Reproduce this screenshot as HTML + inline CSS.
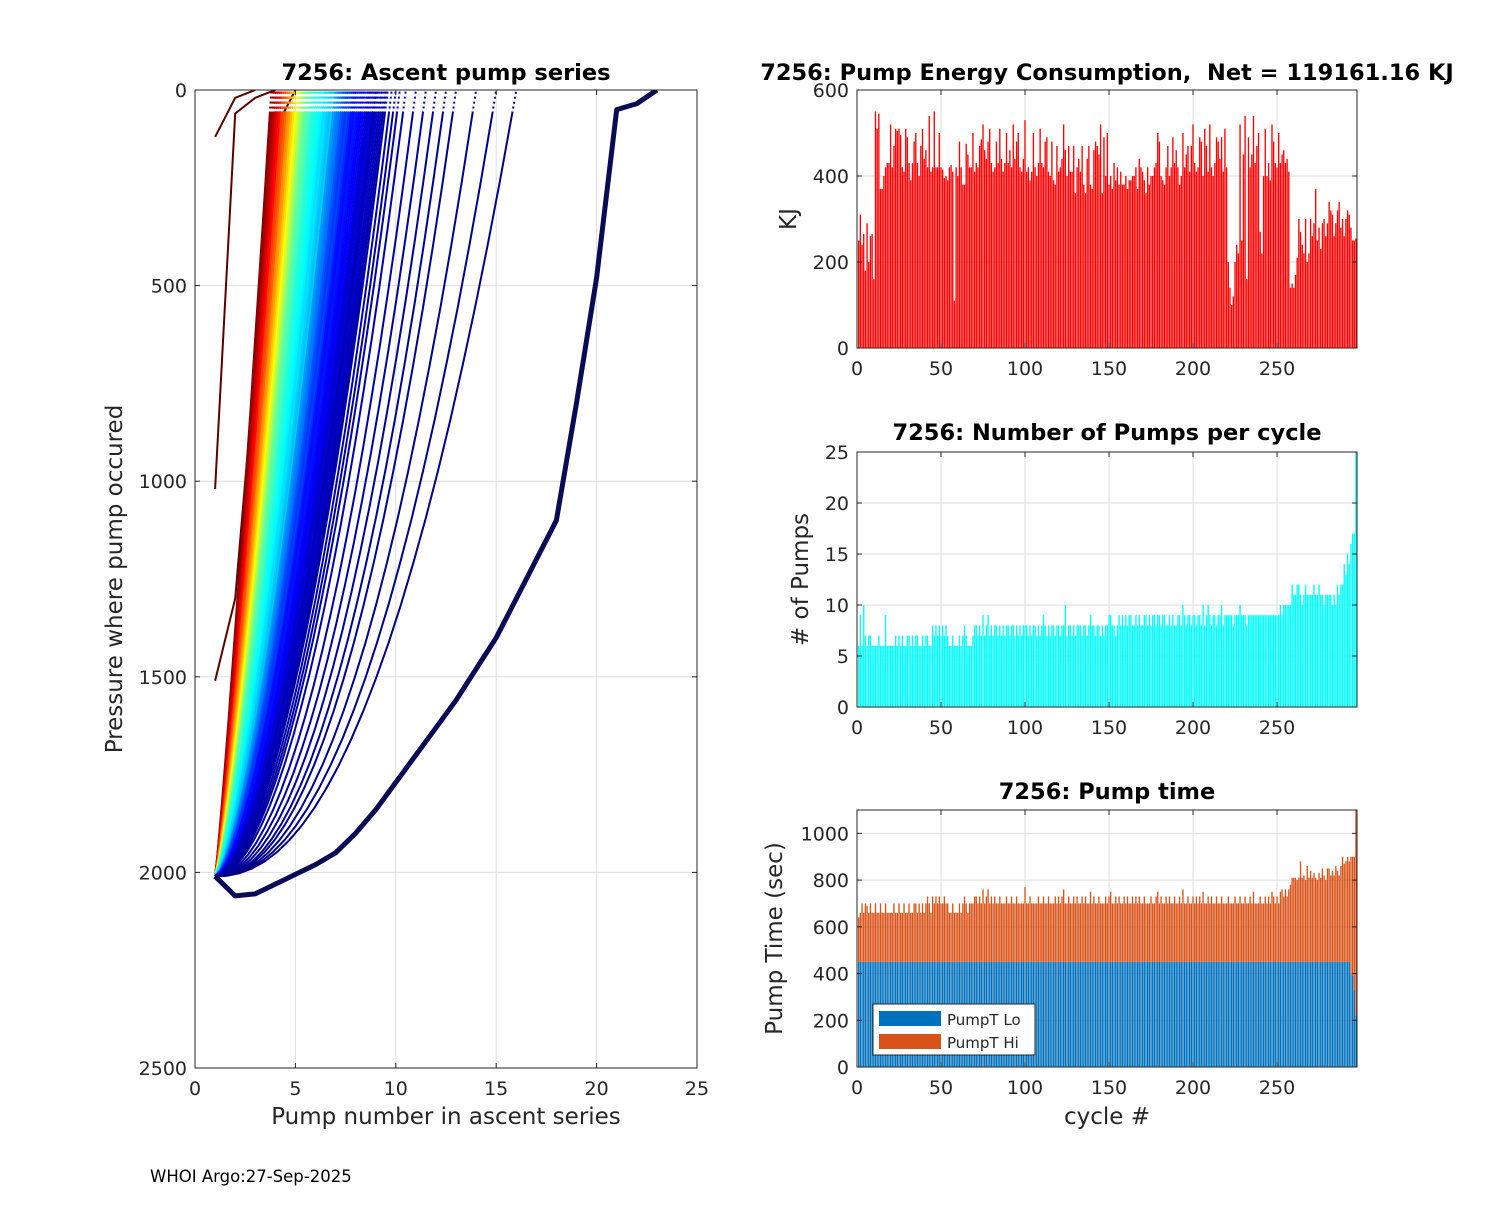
<!DOCTYPE html>
<html><head><meta charset="utf-8">
<style>
html,body{margin:0;padding:0;background:#fff;}
svg text{font-family:"DejaVu Sans","Liberation Sans",sans-serif;fill:#262626;}
</style></head>
<body>
<svg id="fig" width="1500" height="1200" xmlns="http://www.w3.org/2000/svg">
<rect width="1500" height="1200" fill="#fff"/>
<g id="left"></g>
<g id="top"></g>
<g id="mid"></g>
<g id="bot"></g>
<text x="150" y="1182" font-size="16.5" style="fill:#000">WHOI Argo:27-Sep-2025</text>
</svg>
<script>
const energy=[250,310,240,265,180,290,200,260,265,160,550,510,545,370,370,400,420,430,430,520,
420,470,510,505,510,495,420,410,510,490,430,390,430,480,500,430,400,470,510,440,
460,420,540,410,420,550,420,420,500,420,415,395,400,390,420,425,410,110,420,400,
480,420,380,380,475,450,420,420,500,410,430,420,470,485,520,460,440,480,510,430,
410,420,480,430,510,440,410,430,500,430,460,420,520,440,480,500,420,410,440,530,
410,420,390,410,500,420,400,430,510,430,420,480,490,410,400,480,390,380,470,410,
420,440,520,460,400,470,410,410,470,360,420,440,410,470,380,360,440,470,380,370,
460,480,470,450,520,360,490,400,500,380,400,370,430,390,420,380,410,380,380,400,
370,390,390,400,400,420,370,440,420,410,390,360,420,380,400,400,420,430,500,480,
400,390,380,420,470,400,420,490,430,460,420,380,400,500,420,450,470,410,470,520,
430,410,420,490,480,400,510,470,410,520,420,400,430,490,480,440,490,410,510,420,
200,140,100,120,200,240,220,520,250,450,540,160,490,420,450,540,430,470,500,270,
220,400,510,400,430,390,520,480,430,420,500,430,450,460,430,440,410,140,150,140,
170,210,300,270,240,220,300,200,220,300,260,290,370,250,280,230,290,300,260,290,
340,320,310,260,290,320,340,280,300,260,300,320,310,280,250,250,255];
const pumps=[6,9,6,10,7,6,7,7,6,6,6,6,7,6,6,6,9,6,6,6,
6,6,7,6,7,6,7,6,6,7,7,6,7,6,7,7,6,6,7,6,
7,7,6,6,8,7,8,7,8,7,8,7,8,7,6,6,7,6,6,6,
7,6,7,8,7,6,6,6,7,8,8,7,8,7,9,7,8,9,7,8,
7,8,8,7,8,7,8,7,8,8,7,8,8,7,8,7,8,7,8,8,
8,7,8,7,8,8,7,8,7,8,9,8,7,8,7,8,8,7,8,8,
7,8,8,10,7,8,8,7,8,7,8,8,8,7,8,8,7,8,9,8,
8,7,8,8,7,8,7,8,8,9,9,8,8,7,8,9,8,9,8,9,
8,9,9,8,8,9,8,9,8,8,9,9,8,9,8,9,9,8,9,9,
8,9,9,8,8,9,8,9,8,8,9,9,8,10,9,8,9,9,8,9,
9,8,9,9,8,10,8,9,10,9,8,9,9,8,9,9,10,8,9,9,
9,9,9,8,9,9,9,10,9,9,9,8,9,9,9,9,9,9,9,9,
9,9,9,9,9,9,9,9,9,9,9,10,9,10,10,10,10,10,12,11,
11,12,12,11,10,11,12,11,11,11,11,12,11,11,12,11,11,10,11,11,
11,11,10,11,10,12,11,12,12,14,13,15,14,16,17,17,25];
const ascentLen=[3.9,4.0,3.8,4.1,4.0,3.9,4.0,4.1,3.9,4.0,4.0,4.1,4.0,4.2,4.0,4.1,4.2,4.0,4.1,4.2,
4.1,4.2,4.1,4.3,4.2,4.1,4.3,4.2,4.2,4.3,4.3,4.2,4.4,4.3,4.2,4.4,4.3,4.4,4.3,4.4,
4.4,4.3,4.5,4.4,4.4,4.5,4.4,4.5,4.6,4.4,4.5,4.5,4.6,4.5,4.4,4.6,4.5,4.6,4.7,4.5,
4.6,4.7,4.6,4.6,4.7,4.8,4.6,4.7,4.8,4.7,4.7,4.8,4.9,4.7,4.8,4.8,4.9,4.8,4.7,4.9,
4.9,4.8,5.0,4.9,4.8,5.0,4.9,5.0,5.1,4.9,5.0,5.0,5.1,5.0,4.9,5.1,5.0,5.1,5.2,5.0,
5.1,5.1,5.2,5.0,5.1,5.2,5.1,5.2,5.3,5.1,5.2,5.2,5.3,5.2,5.1,5.3,5.2,5.3,5.4,5.2,
5.3,5.3,5.4,5.2,5.3,5.4,5.3,5.4,5.5,5.3,5.4,5.4,5.5,5.4,5.3,5.5,5.4,5.5,5.6,5.4,
5.5,5.5,5.6,5.4,5.5,5.6,5.5,5.6,5.7,5.5,5.6,5.6,5.7,5.6,5.5,5.7,5.6,5.7,5.8,5.6,
5.7,5.8,5.9,5.7,5.8,6.0,5.8,5.9,6.1,5.9,6.0,6.0,6.2,6.0,5.9,6.1,6.0,6.2,6.3,6.1,
6.2,6.3,6.4,6.2,6.5,6.6,6.3,6.5,6.7,6.4,6.6,6.5,6.8,6.6,6.5,6.9,6.7,6.8,7.0,6.7,
6.9,7.0,7.1,6.8,7.0,7.2,7.0,7.1,7.3,7.0,7.2,7.1,7.4,7.2,7.0,7.3,7.2,7.5,7.3,7.1,
7.3,7.4,7.5,7.2,7.4,7.6,7.3,7.5,7.7,7.4,7.6,7.5,7.8,7.6,7.4,7.7,7.6,7.9,7.7,7.5,
7.7,7.8,8.0,7.6,7.9,8.1,7.8,8.0,8.2,7.9,8.1,8.0,8.3,8.1,7.9,8.2,8.0,8.4,8.6,8.3,
8.5,8.7,8.9,8.4,8.8,9.0,8.6,8.9,9.1,8.7,9.0,8.8,9.2,9.0,8.7,9.3,9.0,9.4,9.1,9.5,
9.3,9.6,9.0,9.8,10.2,9.5,10.5,11.0,10.0,11.5,12.0,12.5,13.0,14.0,15.0,16.0,23];
const totalTime=[640,660,700,660,700,690,660,700,660,660,700,660,660,700,660,660,700,660,660,660,
660,700,660,660,700,660,660,700,660,660,700,660,660,700,700,660,700,660,700,660,
700,730,700,660,730,700,730,700,730,700,700,730,700,700,660,660,700,660,660,660,
700,660,700,730,700,660,700,700,700,730,730,700,730,700,760,700,730,760,700,730,
700,730,700,700,730,700,700,700,730,700,700,730,700,700,730,700,700,700,700,770,
700,700,730,700,700,700,700,730,700,700,730,700,700,730,700,700,700,730,700,730,
700,730,760,700,700,730,700,700,730,700,730,700,700,730,700,730,700,700,750,700,
730,700,700,730,700,700,700,730,700,730,750,700,700,730,700,730,700,700,730,700,
730,700,700,730,700,730,700,730,700,700,730,700,700,700,730,700,700,730,750,700,
730,700,700,730,700,730,700,700,730,700,700,730,700,760,700,700,730,700,700,730,
700,730,700,730,700,750,700,700,730,700,730,700,700,730,700,700,730,700,700,700,
730,700,700,700,730,700,700,730,700,700,730,700,700,730,700,750,700,700,700,730,
700,700,730,700,730,700,750,730,700,730,700,750,760,730,760,730,760,780,810,810,
810,800,810,880,810,820,800,860,810,840,810,830,810,800,830,810,850,820,800,850,
850,820,840,820,860,840,820,860,900,870,880,900,880,900,900,900,1100];
const loTime=[450,450,450,450,450,450,450,450,450,450,450,450,450,450,450,450,450,450,450,450,
450,450,450,450,450,450,450,450,450,450,450,450,450,450,450,450,450,450,450,450,
450,450,450,450,450,450,450,450,450,450,450,450,450,450,450,450,450,450,450,450,
450,450,450,450,450,450,450,450,450,450,450,450,450,450,450,450,450,450,450,450,
450,450,450,450,450,450,450,450,450,450,450,450,450,450,450,450,450,450,450,450,
450,450,450,450,450,450,450,450,450,450,450,450,450,450,450,450,450,450,450,450,
450,450,450,450,450,450,450,450,450,450,450,450,450,450,450,450,450,450,450,450,
450,450,450,450,450,450,450,450,450,450,450,450,450,450,450,450,450,450,450,450,
450,450,450,450,450,450,450,450,450,450,450,450,450,450,450,450,450,450,450,450,
450,450,450,450,450,450,450,450,450,450,450,450,450,450,450,450,450,450,450,450,
450,450,450,450,450,450,450,450,450,450,450,450,450,450,450,450,450,450,450,450,
450,450,450,450,450,450,450,450,450,450,450,450,450,450,450,450,450,450,450,450,
450,450,450,450,450,450,450,450,450,450,450,450,450,450,450,450,450,450,450,450,
450,450,450,450,450,450,450,450,450,450,450,450,450,450,450,450,450,450,450,450,
450,450,450,450,450,450,450,450,450,450,450,450,450,400,390,330,220];
const lastCurveP=[2010,2060,2055,2030,2005,1980,1950,1900,1840,1770,1700,1630,1560,1480,1400,1300,1200,1100,800,480,50,35,0];
const oddCurveA=[[1,1510],[2,1300],[4,100],[5,0]];
const oddCurveB=[[1,1020],[2,60],[3,20],[4,0]];
const oddCurveC=[[1,120],[2,20],[3,0]];
const leftXTicks=[0,5,10,15,20,25];
const leftYTicks=[0,500,1000,1500,2000,2500];
const cycleTicks=[0,50,100,150,200,250];
const energyTicks=[0,200,400,600];
const pumpTicks=[0,5,10,15,20,25];
const timeTicks=[0,200,400,600,800,1000];

const NS="http://www.w3.org/2000/svg";
function mk(parent,tag,attrs,txt){const e=document.createElementNS(NS,tag);for(const k in attrs)e.setAttribute(k,attrs[k]);if(txt!==undefined)e.textContent=txt;parent.appendChild(e);return e;}
function jet(v){const c=x=>Math.round(255*Math.max(0,Math.min(1,x)));return `rgb(${c(1.5-Math.abs(4*v-3))},${c(1.5-Math.abs(4*v-2))},${c(1.5-Math.abs(4*v-1))})`;}

function axes(g,x0,x1,y0,y1,xs,ys,xt,yt){
  const grid=mk(g,'g',{});
  
  
  xt.forEach(t=>{const X=xs(t);if(X>x0+1&&X<x1-1)mk(grid,'line',{x1:X,x2:X,y1:y0,y2:y1,stroke:'#dedede','stroke-width':1});});
  yt.forEach(t=>{const Y=ys(t);if(Y>y0+1&&Y<y1-1)mk(grid,'line',{x1:x0,x2:x1,y1:Y,y2:Y,stroke:'#dedede','stroke-width':1});});
}
function frame(g,x0,x1,y0,y1,xs,ys,xt,yt){
  mk(g,'rect',{x:x0,y:y0,width:x1-x0,height:y1-y0,fill:'none',stroke:'#262626','stroke-width':1});
  const xa=mk(g,'g',{});
  
  
  xt.forEach(t=>{const X=xs(t);mk(xa,'line',{x1:X,x2:X,y1:y1,y2:y1-5,stroke:'#262626'});mk(xa,'line',{x1:X,x2:X,y1:y0,y2:y0+5,stroke:'#262626'});
    const tx=mk(xa,'text',{x:X,y:y1+27,'font-size':19,'text-anchor':'middle'},String(t));
    
    });
  const ya=mk(g,'g',{});
  
  
  yt.forEach(t=>{const Y=ys(t);mk(ya,'line',{x1:x0,x2:x0+5,y1:Y,y2:Y,stroke:'#262626'});mk(ya,'line',{x1:x1,x2:x1-5,y1:Y,y2:Y,stroke:'#262626'});
    const tx=mk(ya,'text',{x:x0-8,y:Y+7,'font-size':19,'text-anchor':'end'},String(t));
    
    });
}
function title(g,x,y,s){const t=mk(g,'text',{x:x,y:y,'font-size':22.5,'font-weight':'bold','text-anchor':'middle','xml:space':'preserve',style:'fill:#000;white-space:pre'},s);
  
  }
function ylab(g,x,y,s){const t=mk(g,'text',{x:x,y:y,'font-size':23,'text-anchor':'middle',transform:`rotate(-90 ${x} ${y})`},s);
  
  }
function xlab(g,x,y,s){const t=mk(g,'text',{x:x,y:y,'font-size':23,'text-anchor':'middle'},s);
  
  }

// LEFT
(function(){
  const g=document.getElementById('left');
  const x0=195,x1=697,y0=90,y1=1068;
  const xs=v=>x0+(v/25)*(x1-x0), ys=v=>y0+(v/2500)*(y1-y0);
  axes(g,x0,x1,y0,y1,xs,ys,leftXTicks,leftYTicks);
  const clip=mk(g,'clipPath',{id:'lc'});mk(clip,'rect',{x:x0,y:y0,width:x1-x0,height:y1-y0});
  const lines=mk(g,'g',{'clip-path':'url(#lc)'});
  const N=ascentLen.length;
  function poly(pts,col,w,dash){
    const pl=mk(lines,'polyline',{points:pts.join(' '),fill:'none',stroke:col,'stroke-width':w,'stroke-linejoin':'round'});
    if(dash)pl.setAttribute('stroke-dasharray',dash);
    
    
  }
  [oddCurveA,oddCurveB,oddCurveC].forEach(c=>{
    poly(c.map(p=>xs(p[0]).toFixed(1)+','+ys(p[1]).toFixed(1)),'#5a0000',2);
  });
  for(let i=0;i<N;i++){
    const col=i===N-1?'#0a0a55':jet(1-i/(N-1));
    if(i===N-1){
      poly(lastCurveP.map((p,k)=>xs(k+1).toFixed(1)+','+ys(p).toFixed(1)),col,5);
      continue;
    }
    const L=ascentLen[i];
    const q=Math.min(2.2,1.15+0.12*(L-4));
    const sCut=Math.pow(1-60/2010,1/q);
    const P=s=>xs(1+(L-1)*s).toFixed(1)+','+ys(2010*(1-Math.pow(s,q))).toFixed(1);
    const solid=[];
    for(let j=0;j<=24;j++){const s=sCut*j/24;solid.push(P(s));}
    poly(solid,col,2);
    poly([P(sCut),P(1)],col,2,'2,3');
  }
  frame(g,x0,x1,y0,y1,xs,ys,leftXTicks,leftYTicks);
  title(g,446,80,'7256: Ascent pump series');
  ylab(g,122,579,'Pressure where pump occured');
  xlab(g,446,1124,'Pump number in ascent series');
})();

function barChart(id,y0,y1,ymax,yt,series,colors,lowers,ttl,ttlY,yl,ylX){
  const g=document.getElementById(id);
  const x0=857,x1=1357,XM=297.6;
  const xs=v=>x0+(v/XM)*(x1-x0), ys=v=>y1-(v/ymax)*(y1-y0);
  axes(g,x0,x1,y0,y1,xs,ys,cycleTicks,yt);
  const bw=0.8*(x1-x0)/XM;
  series.forEach((s,si)=>{
    const bg=mk(g,'g',{});
    
    
    s.forEach((v,i)=>{
      const lo=lowers[si]?lowers[si][i]:0;
      const top=Math.min(v,ymax);
      if(top<=lo)return;
      const r=mk(bg,'rect',{x:(xs(i+1)-bw/2).toFixed(2),y:ys(top).toFixed(2),width:bw.toFixed(2),height:(ys(lo)-ys(top)).toFixed(2),fill:colors[si]});
      
      
    });
  });
  frame(g,x0,x1,y0,y1,xs,ys,cycleTicks,yt);
  title(g,ttl[0],ttlY,ttl[1]);
  ylab(g,ylX,(y0+y1)/2,yl);
  return g;
}
barChart('top',90,348,600,energyTicks,[energy],['#ff0000'],[null],[1107,'7256: Pump Energy Consumption,  Net = 119161.16 KJ'],80,'KJ',796);
barChart('mid',452,707,25,pumpTicks,[pumps],['#00ffff'],[null],[1107,'7256: Number of Pumps per cycle'],440,'# of Pumps',808);
const gb=barChart('bot',810,1067,1100,timeTicks,[loTime,totalTime],['#0072bd','#d95319'],[null,loTime],[1107,'7256: Pump time'],799,'Pump Time (sec)',782);
xlab(gb,1107,1124,'cycle #');
const lg=mk(gb,'g',{});


mk(lg,'rect',{x:873,y:1004,width:162,height:51,fill:'#fff',stroke:'#262626','stroke-width':1});
mk(lg,'rect',{x:879,y:1011,width:62,height:15,fill:'#0072bd'});
const l1=mk(lg,'text',{x:947,y:1025,'font-size':15},'PumpT Lo');


mk(lg,'rect',{x:879,y:1034,width:62,height:15,fill:'#d95319'});
const l2=mk(lg,'text',{x:947,y:1048,'font-size':15},'PumpT Hi');


</script>
</body></html>
